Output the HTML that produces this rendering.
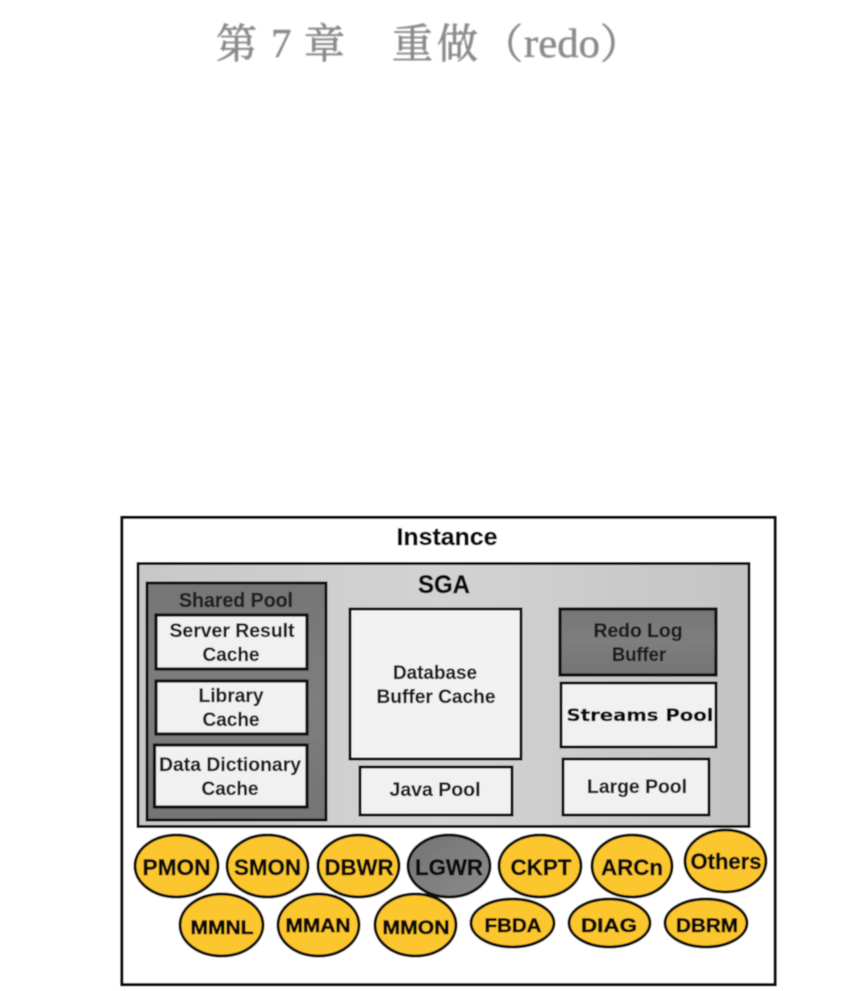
<!DOCTYPE html>
<html lang="zh">
<head>
<meta charset="utf-8">
<title>第7章 重做（redo）</title>
<style>
html,body{margin:0;padding:0;background:#fff;width:856px;height:991px;overflow:hidden}
svg{display:block}
text{font-family:"Liberation Sans","Noto Sans CJK SC",sans-serif;text-anchor:middle;fill:#111}
.t{font-weight:bold;font-size:18px;stroke:#111;stroke-width:.45px}
.b{font-size:19.500px;font-weight:bold;fill:#1c1c1c;stroke:#1c1c1c;stroke-width:.2px}
.e{font-size:22px;font-weight:bold;fill:#111;stroke:#111;stroke-width:.45px}
.eb{font-size:19px;font-weight:bold;fill:#111;stroke:#111;stroke-width:.6px}
.h{font-family:"Noto Serif CJK SC","Noto Sans CJK SC",serif;font-size:41px;fill:#8a8a8a;stroke:#8a8a8a;stroke-width:.7px;text-anchor:start}
.r{font-family:"Liberation Serif",serif;font-size:41px;fill:#8a8a8a;stroke:#8a8a8a;stroke-width:.4px;text-anchor:start}
</style>
</head>
<body>
<svg width="856" height="991" viewBox="0 0 856 991" xmlns="http://www.w3.org/2000/svg">
<defs>
<filter id="soft" x="-5%" y="-5%" width="110%" height="110%"><feGaussianBlur stdDeviation="0.4"/></filter>
<filter id="blur" x="-5%" y="-20%" width="110%" height="140%"><feGaussianBlur stdDeviation="0.8"/></filter>
<linearGradient id="sga" x1="0" y1="0" x2="1" y2="0">
<stop offset="0" stop-color="#c8c8c8"/><stop offset=".5" stop-color="#d3d3d3"/><stop offset="1" stop-color="#c4c4c4"/>
</linearGradient>
<linearGradient id="dark" x1="0" y1="0" x2="0" y2="1">
<stop offset="0" stop-color="#767676"/><stop offset=".5" stop-color="#7e7e7e"/><stop offset="1" stop-color="#747474"/>
</linearGradient>
<linearGradient id="gr" x1="0" y1="0" x2="1" y2="1">
<stop offset="0" stop-color="#727272"/><stop offset="1" stop-color="#8c8c8c"/>
</linearGradient>
</defs>

<g filter="url(#blur)">
<text class="h" x="216" y="58">第</text>
<text class="r" x="271" y="57">7</text>
<text class="h" x="304" y="58">章</text>
<text class="h" x="392" y="58">重</text>
<text class="h" x="437" y="58">做</text>
<text class="h" x="482" y="58">（</text>
<text class="r" x="524" y="57" textLength="76" lengthAdjust="spacingAndGlyphs">redo</text>
<text class="h" x="600" y="58">）</text>
</g>

<g filter="url(#soft)">
<rect x="122" y="517.500" width="653" height="467" fill="#fff" stroke="#0a0a0a" stroke-width="3"/>
<rect x="138" y="563.500" width="611" height="263" fill="url(#sga)" stroke="#0a0a0a" stroke-width="3"/>

<rect x="147" y="583" width="179" height="237" fill="url(#dark)" stroke="#0a0a0a" stroke-width="3"/>
<rect x="156" y="615" width="151" height="54" fill="#f1f1f1" stroke="#0a0a0a" stroke-width="3.200"/>
<rect x="156" y="681" width="151" height="53" fill="#f1f1f1" stroke="#0a0a0a" stroke-width="3.200"/>
<rect x="154.500" y="745" width="152.500" height="62" fill="#f1f1f1" stroke="#0a0a0a" stroke-width="3.200"/>

<rect x="350" y="609" width="171" height="150" fill="#f2f2f2" stroke="#0a0a0a" stroke-width="3"/>
<rect x="360" y="767" width="152" height="48" fill="#f1f1f1" stroke="#0a0a0a" stroke-width="3"/>
<rect x="560" y="609" width="156" height="66" fill="url(#dark)" stroke="#0a0a0a" stroke-width="3.200"/>
<rect x="561" y="683" width="155" height="64" fill="#f1f1f1" stroke="#0a0a0a" stroke-width="3"/>
<rect x="563" y="759" width="146" height="56" fill="#f1f1f1" stroke="#0a0a0a" stroke-width="3"/>

<g fill="#fcc62e" stroke="#0a0a0a" stroke-width="3">
<ellipse cx="176.500" cy="866" rx="41.500" ry="31"/>
<ellipse cx="267.500" cy="866" rx="40.500" ry="31"/>
<ellipse cx="358.500" cy="866" rx="40.500" ry="31"/>
<ellipse cx="449" cy="866" rx="41" ry="31" fill="url(#gr)"/>
<ellipse cx="540" cy="866" rx="41" ry="31"/>
<ellipse cx="632" cy="866" rx="40" ry="31"/>
<ellipse cx="725.500" cy="861" rx="40.500" ry="31"/>
<ellipse cx="221.500" cy="925" rx="41.500" ry="31"/>
<ellipse cx="318.500" cy="925" rx="40.500" ry="31"/>
<ellipse cx="415.500" cy="925" rx="40.500" ry="31"/>
<ellipse cx="512.500" cy="923" rx="41.500" ry="24"/>
<ellipse cx="609.500" cy="923" rx="40.500" ry="24"/>
<ellipse cx="706" cy="923" rx="41" ry="24"/>
</g>

<text class="t" x="447" y="545" style="font-size:24px" textLength="101" lengthAdjust="spacingAndGlyphs">Instance</text>
<text class="t" x="444" y="593" style="font-size:25px" textLength="52" lengthAdjust="spacingAndGlyphs">SGA</text>
<text class="t" x="236" y="607" style="font-size:20px;fill:#222;stroke:#222;stroke-width:.3px" textLength="114" lengthAdjust="spacingAndGlyphs">Shared Pool</text>

<text class="b" x="232" y="637" textLength="125" lengthAdjust="spacingAndGlyphs">Server Result</text>
<text class="b" x="231" y="661" textLength="57" lengthAdjust="spacingAndGlyphs">Cache</text>
<text class="b" x="231" y="702" textLength="65" lengthAdjust="spacingAndGlyphs">Library</text>
<text class="b" x="231" y="726" textLength="57" lengthAdjust="spacingAndGlyphs">Cache</text>
<text class="b" x="230" y="771" textLength="142" lengthAdjust="spacingAndGlyphs">Data Dictionary</text>
<text class="b" x="230" y="795" textLength="57" lengthAdjust="spacingAndGlyphs">Cache</text>
<text class="b" x="435" y="679" textLength="84" lengthAdjust="spacingAndGlyphs">Database</text>
<text class="b" x="436" y="703" textLength="119" lengthAdjust="spacingAndGlyphs">Buffer Cache</text>
<text class="b" x="435" y="796" textLength="91" lengthAdjust="spacingAndGlyphs">Java Pool</text>
<text class="b" x="638" y="637" textLength="89" lengthAdjust="spacingAndGlyphs">Redo Log</text>
<text class="b" x="639" y="661" textLength="54" lengthAdjust="spacingAndGlyphs">Buffer</text>
<text x="640" y="721" style="font-family:'DejaVu Sans',sans-serif;font-weight:bold;font-size:17px;stroke:#111;stroke-width:.3px" textLength="147" lengthAdjust="spacingAndGlyphs">Streams Pool</text>
<text class="b" x="637" y="793" textLength="100" lengthAdjust="spacingAndGlyphs">Large Pool</text>

<text class="e" x="176.500" y="875" textLength="68" lengthAdjust="spacingAndGlyphs">PMON</text>
<text class="e" x="267.500" y="875" textLength="67" lengthAdjust="spacingAndGlyphs">SMON</text>
<text class="e" x="359" y="875" textLength="69" lengthAdjust="spacingAndGlyphs">DBWR</text>
<text class="e" x="449" y="875" textLength="68" lengthAdjust="spacingAndGlyphs">LGWR</text>
<text class="e" x="541" y="875" textLength="61" lengthAdjust="spacingAndGlyphs">CKPT</text>
<text class="e" x="632" y="875" textLength="62" lengthAdjust="spacingAndGlyphs">ARCn</text>
<text class="e" x="726" y="869" textLength="71" lengthAdjust="spacingAndGlyphs">Others</text>
<text class="eb" x="222" y="934" textLength="63" lengthAdjust="spacingAndGlyphs">MMNL</text>
<text class="eb" x="318" y="932" textLength="65" lengthAdjust="spacingAndGlyphs">MMAN</text>
<text class="eb" x="416" y="934" textLength="67" lengthAdjust="spacingAndGlyphs">MMON</text>
<text class="eb" x="513" y="932" textLength="57" lengthAdjust="spacingAndGlyphs">FBDA</text>
<text class="eb" x="609" y="932" textLength="56" lengthAdjust="spacingAndGlyphs">DIAG</text>
<text class="eb" x="707" y="932" textLength="62" lengthAdjust="spacingAndGlyphs">DBRM</text>
</g>
</svg>
</body>
</html>
